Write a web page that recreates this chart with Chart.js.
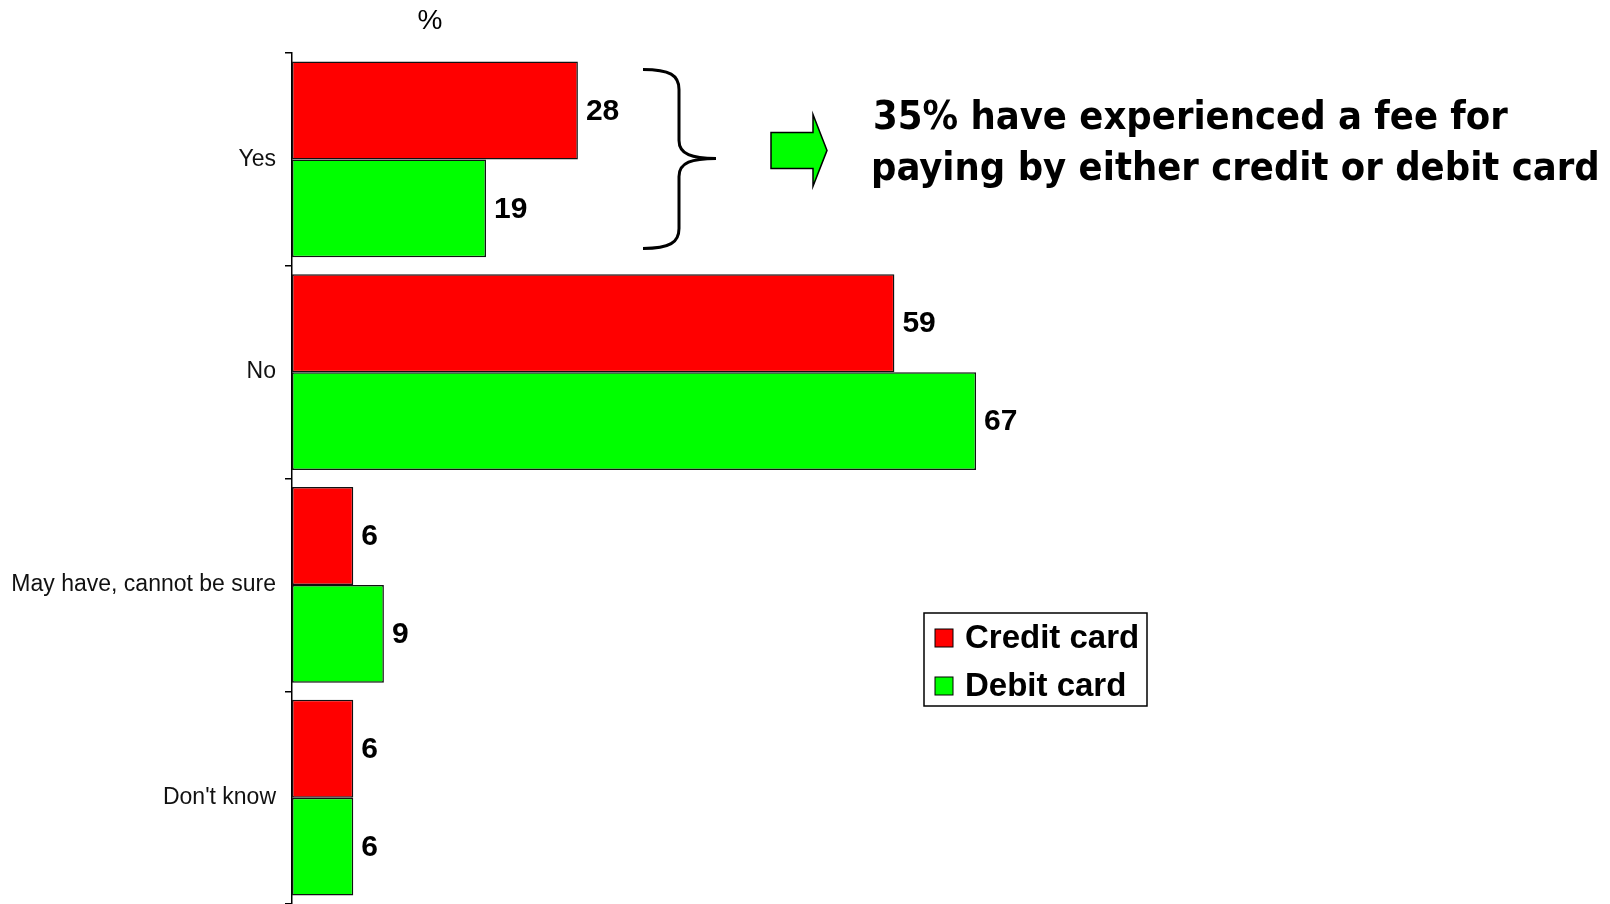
<!DOCTYPE html>
<html>
<head>
<meta charset="utf-8">
<script src="https://cdn.jsdelivr.net/npm/chart.js@4"></script>
<style>
  html, body { margin: 0; padding: 0; background: #fff; }
  canvas { display: block; }
</style>
</head>
<body>
<canvas id="chart" width="1610" height="904"></canvas>
<script>
const categories = ["Yes", "No", "May have, cannot be sure", "Don't know"];
const creditCard = [28, 59, 6, 6];
const debitCard = [19, 67, 9, 6];
const seriesNames = ["Credit card", "Debit card"];
const seriesColors = ["#ff0000", "#00ff00"];
const calloutLines = ["35% have experienced a fee for", "paying by either credit or debit card"];

const ARIAL = "'Liberation Sans', Arial, sans-serif";

// values at bar ends, brace + arrow + callout text, legend box, "%" unit
const extras = {
  id: "extras",
  afterDatasetsDraw(chart) {
    const ctx = chart.ctx;
    ctx.save();
    ctx.fillStyle = "#000";
    ctx.font = "bold 30px " + ARIAL;
    ctx.textAlign = "left";
    ctx.textBaseline = "middle";
    chart.data.datasets.forEach((ds, i) => {
      chart.getDatasetMeta(i).data.forEach((bar, j) => {
        ctx.fillText(String(ds.data[j]), bar.x + 8, bar.y + 1);
      });
    });

    // "%" unit label
    ctx.font = "28px " + ARIAL;
    ctx.textAlign = "center";
    ctx.fillText("%", 430, 21);

    // brace around the Yes bars
    const yMid = chart.scales.y.getPixelForValue(0) - 1;
    const top = yMid - 89, bottom = yMid + 90;
    const x0 = 643, xs = 679, xt = 716;
    ctx.lineWidth = 3;
    ctx.strokeStyle = "#000";
    ctx.beginPath();
    ctx.moveTo(x0, top);
    ctx.bezierCurveTo(670, top, xs, top + 6, xs, top + 20);
    ctx.lineTo(xs, yMid - 18);
    ctx.bezierCurveTo(xs, yMid - 4, 692, yMid, xt, yMid);
    ctx.bezierCurveTo(692, yMid, xs, yMid + 4, xs, yMid + 18);
    ctx.lineTo(xs, bottom - 20);
    ctx.bezierCurveTo(xs, bottom - 6, 670, bottom, x0, bottom);
    ctx.stroke();

    // block arrow
    const ay = yMid - 8;
    ctx.beginPath();
    ctx.moveTo(771, ay - 18);
    ctx.lineTo(813, ay - 18);
    ctx.lineTo(813, ay - 36);
    ctx.lineTo(827, ay);
    ctx.lineTo(813, ay + 36);
    ctx.lineTo(813, ay + 18);
    ctx.lineTo(771, ay + 18);
    ctx.closePath();
    ctx.fillStyle = "#00ff00";
    ctx.fill();
    ctx.lineWidth = 1.5;
    ctx.stroke();

    // callout text, sized so the long line spans the same width
    let size = 40;
    const face = "'DejaVu Sans Condensed', 'DejaVu Sans', sans-serif";
    ctx.font = "bold " + size + "px " + face;
    const w = ctx.measureText(calloutLines[1]).width;
    size = size * 729 / w;
    ctx.font = "bold " + size.toFixed(1) + "px " + face;
    ctx.fillStyle = "#000";
    ctx.textAlign = "left";
    ctx.fillText(calloutLines[0], 873, 119);
    ctx.fillText(calloutLines[1], 871, 170);

    // legend
    ctx.lineWidth = 1.5;
    ctx.strokeStyle = "#000";
    ctx.fillStyle = "#fff";
    ctx.fillRect(924, 613, 223, 93);
    ctx.strokeRect(924, 613, 223, 93);
    ctx.font = "bold 33px " + ARIAL;
    seriesNames.forEach((name, i) => {
      const cy = 638 + i * 48;
      ctx.fillStyle = seriesColors[i];
      ctx.fillRect(935, cy - 9, 18, 18);
      ctx.lineWidth = 1;
      ctx.strokeRect(935, cy - 9, 18, 18);
      ctx.fillStyle = "#000";
      ctx.fillText(name, 965, cy + 1);
    });
    ctx.restore();
  }
};

new Chart(document.getElementById("chart"), {
  type: "bar",
  data: {
    labels: categories,
    datasets: [
      { label: seriesNames[0], data: creditCard, backgroundColor: seriesColors[0] },
      { label: seriesNames[1], data: debitCard, backgroundColor: seriesColors[1] },
    ],
  },
  options: {
    indexAxis: "y",
    responsive: false,
    animation: false,
    devicePixelRatio: 1,
    layout: { padding: { top: 53, right: 297, bottom: 0, left: 0 } },
    datasets: {
      bar: {
        borderColor: "#111",
        borderWidth: 1.5,
        borderSkipped: false,
        categoryPercentage: 0.92,
        barPercentage: 1,
      },
    },
    plugins: {
      legend: { display: false },
      tooltip: { enabled: false },
    },
    scales: {
      x: { display: false, min: 0, max: 100 },
      y: {
        afterFit: (s) => { s.width = 292; s.paddingTop = 0; s.paddingBottom = 0; },
        border: { display: true, color: "#000", width: 1.5 },
        grid: { drawOnChartArea: false, drawTicks: true, tickLength: 7, color: "#000", lineWidth: 1.5 },
        ticks: { color: "#111", padding: 9, font: { family: ARIAL, size: 23 } },
      },
    },
  },
  plugins: [extras],
});
</script>
</body>
</html>
